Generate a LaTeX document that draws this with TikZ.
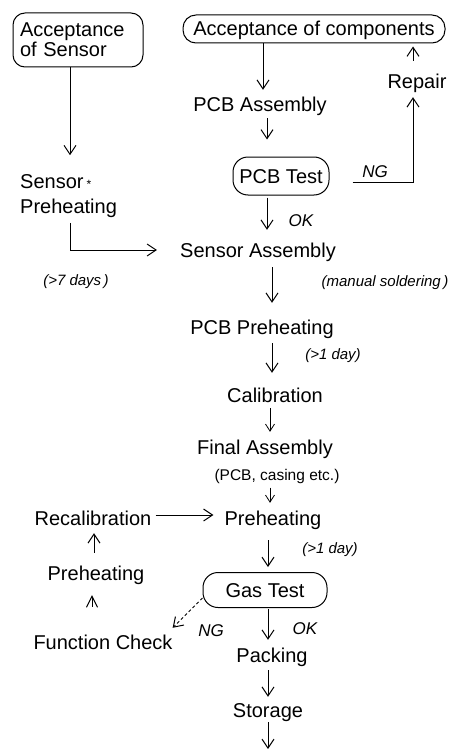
\documentclass[tikz,border=0pt]{standalone}
\usepackage{fontspec}
\setmainfont{Liberation Sans}
\usetikzlibrary{arrows.meta}
\begin{document}
\begin{tikzpicture}[x=1pt,y=-1pt,
  every node/.style={inner sep=0pt},
  lbl/.style={font=\fontsize{20}{22}\selectfont, text height=14pt, text depth=0pt},
  note/.style={font=\fontsize{15}{17}\selectfont\itshape, text height=11pt, text depth=0pt},
  okng/.style={font=\fontsize{17}{19}\selectfont\itshape, text height=12pt, text depth=0pt},
  rbox/.style={draw, line width=1pt, font=\fontsize{20}{22}\selectfont, text height=14pt, text depth=0pt},
  arr/.style={line width=1pt, -{Straight Barb[length=9pt,width=12pt,line width=1pt]}},
  sarr/.style={line width=0.8pt, -{Straight Barb[length=7pt,width=9pt,line width=0.8pt]}},
  hatarr/.style={line width=1pt, -{Straight Barb[length=11pt,width=11pt,line width=1pt]}}
]
\useasboundingbox (0,0) rectangle (454,749);

% boxes
\node[draw, line width=1pt, rounded corners=12pt, align=left, text width=116pt,
      inner xsep=7pt, minimum height=54pt, font=\fontsize{20}{20}\selectfont]
      (accs) at (78,40) {Acceptance\\of Sensor};
\node[rbox, rounded corners=13pt, minimum width=262pt, minimum height=28pt] (accc) at (314,29) {Acceptance of components};
\node[rbox, rounded corners=15pt, minimum width=96pt, minimum height=38pt] (pcbt) at (281,176) {PCB Test};
\node[rbox, rounded corners=15pt, minimum width=124pt, minimum height=35pt] (gt) at (265,590) {Gas Test};

% text nodes
\node[lbl] (pcba) at (260,105) {PCB Assembly};
\node[lbl] (rep) at (417,82) {Repair};
\node[align=left, anchor=west, font=\fontsize{20}{25}\selectfont] (sp) at (20,196)
      {Sensor\hspace{3pt}{\fontsize{12}{12}\selectfont *}\\Preheating};
\node[lbl] (sa) at (258,250) {Sensor Assembly};
\node[lbl] (pp) at (262,327) {PCB Preheating};
\node[lbl] (cal) at (275,395) {Calibration};
\node[lbl] (fa) at (265,447) {Final Assembly};
\node[note, font=\fontsize{15.5}{17}\selectfont] (fan) at (277,475) {(PCB, casing etc.)};
\node[lbl] (ph) at (273,518) {Preheating};
\node[lbl] (rec) at (93,518) {Recalibration};
\node[lbl] (ph2) at (96,573) {Preheating};
\node[lbl] (fc) at (103,642) {Function Check};
\node[lbl] (pk) at (272,655) {Packing};
\node[lbl] (st) at (268,710) {Storage};
\coordinate (endc) at (268,749);

% notes
\node[okng] (ng1) at (375,171) {NG};
\node[okng] (ok1) at (301,220) {OK};
\node[note] (d7) at (76,280) {(>7 days\,)};
\node[note] (ms) at (385,281) {(manual soldering\,)};
\node[note] (d1a) at (333,354) {(>1 day)};
\node[note] (d1b) at (330,548) {(>1 day)};
\node[okng] (ng2) at (211,630) {NG};
\node[okng] (ok2) at (305,628) {OK};

% connectors
\draw[arr, shorten >=19pt] ([xshift=-8pt]accs.south) -- ([xshift=-8pt]accs.south |- sp.north);
\draw[arr, shorten >=8pt] ([xshift=3pt]accc.south -| pcba.north) -- ([xshift=3pt]pcba.north);
\draw[arr, shorten <=6pt, shorten >=17pt] ([xshift=7pt]pcba.south) -- ([xshift=7pt]pcba.south |- pcbt.north);
\draw[arr, shorten >=8pt] ([xshift=23pt,yshift=-6pt]pcbt.east) -| ([xshift=-4pt]rep.south);
\draw[arr, shorten <=14pt, shorten >=3pt] ([xshift=-4pt]rep.north) -- ([xshift=-4pt]rep.north |- accc.south);
\draw[arr, shorten <=2pt, shorten >=13pt] ([xshift=-14pt]pcbt.south) -- ([xshift=-14pt]pcbt.south |- sa.north);
\draw[arr, shorten <=5pt, shorten >=23pt] ([xshift=1.5pt]sp.south) |- (sa.west);
\draw[arr, shorten <=10pt, shorten >=17pt] ([xshift=14pt]sa.south) -- ([xshift=14pt]sa.south |- pp.north);
\draw[arr, shorten <=9pt, shorten >=15pt] ([xshift=10pt]pp.south) -- ([xshift=10pt]pp.south |- cal.north);
\draw[sarr, shorten <=6pt, shorten >=8pt] ([xshift=-5pt]cal.south) -- ([xshift=-5pt]cal.south |- fa.north);
\draw[sarr, shorten <=7pt, shorten >=8pt] ([xshift=-7pt]fan.south) -- ([xshift=-7pt]fan.south |- ph.north);
\draw[arr, shorten <=4pt, shorten >=11pt] ([yshift=3pt]rec.east) -- ([yshift=3pt]ph.west);
\draw[arr, shorten <=15pt, shorten >=5pt] ([xshift=-5pt]ph.south) -- ([xshift=-5pt]ph.south |- gt.north);
\draw[arr, shorten <=13pt, shorten >=8pt] ([xshift=-2pt]ph2.north) -- ([xshift=-2pt]ph2.north |- rec.south);
\draw[hatarr, shorten <=28pt, shorten >=15pt] ([xshift=-11pt]fc.north) -- ([xshift=-11pt]fc.north |- ph2.south);
\draw[arr, dash pattern=on 3pt off 2.5pt] ([yshift=-8pt]gt.west) -- ([yshift=7pt]fc.north east);
\draw[arr, shorten <=1pt, shorten >=8pt] ([xshift=3pt]gt.south) -- ([xshift=3pt]gt.south |- pk.north);
\draw[arr, shorten <=8pt, shorten >=6pt] ([xshift=-4pt]pk.south) -- ([xshift=-4pt]pk.south |- st.north);
\draw[arr, shorten <=5pt] (st.south) -- (endc);
\end{tikzpicture}
\end{document}
